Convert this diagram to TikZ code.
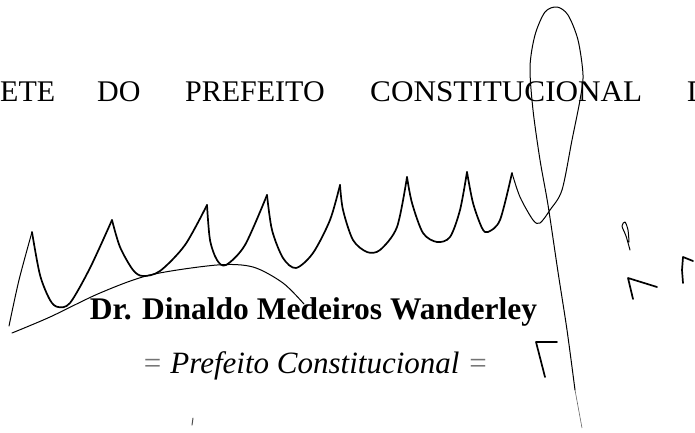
\documentclass[tikz,border=0pt]{standalone}
\usepackage{fontspec}
\setmainfont{Liberation Serif}
\usepackage{tikz}

\tikzset{
	head/.style={anchor=base west, inner sep=0pt, font=\fontsize{30}{30}\selectfont},
	ink/.style={line width=1.7pt, line cap=round, line join=round},
	fine ink/.style={line width=1pt, line cap=round, line join=round},
}

\begin{document}
\begin{tikzpicture}[x=1pt, y=-1pt]
	\useasboundingbox (0,0) rectangle (695,432);
	% header line, cut at both edges
	\node[head] (ete) at (0,101) {ETE};
	\node[head] (do) at (97,101) {DO};
	\node[head] (pref) at (185,101) {PREFEITO};
	\node[head] (const) at (370,101) {\scalebox{1.04}[1]{CONSTITUCIONAL}};
	\node[head] (d) at (687,101) {D};

	% name and title
	\node[anchor=base, inner sep=0pt, font=\fontsize{31.5}{32}\selectfont\bfseries] (name) at (313.5,319) {Dr. Dinaldo Medeiros Wanderley};
	\node[anchor=base, inner sep=0pt, font=\fontsize{31}{32}\selectfont\itshape] (title) at (315,373) {{\color{black!55}=} Prefeito Constitucional {\color{black!55}=}};

	% signature
	\draw[fine ink] plot[smooth] coordinates {(9,326) (19,280) (32,232)};
	\draw[ink] plot[smooth] coordinates {(32,232) (40,275) (50,300) (58,307) (70,303) (90,268) (112,220)};
	\draw[ink] plot[smooth] coordinates {(112,220) (120,247) (133,270) (143,276) (160,271) (185,245) (207,205)};
	\draw[ink] plot[smooth] coordinates {(207,205) (210,240) (217,260) (226,265) (245,245) (267,195)};
	\draw[ink] plot[smooth] coordinates {(267,195) (272,230) (283,258) (296,268) (313,253) (330,220) (340,185)};
	\draw[ink] plot[smooth] coordinates {(340,185) (343,210) (353,240) (367,252) (380,250) (397,227) (407,177)};
	\draw[ink] plot[smooth] coordinates {(407,177) (412,203) (423,233) (437,242) (450,237) (460,210) (467,172)};
	\draw[ink] plot[smooth] coordinates {(467,172) (473,203) (482,228) (488,232) (500,220) (512,173)};
	\draw[fine ink] plot[smooth] coordinates {(512,173) (520,197) (533,220) (540,223) (550,210) (562,190) (572,140) (580,100) (583,75) (578,40) (568,15) (557,7) (545,12) (535,35) (530,67) (533,110) (540,160) (548,205) (558,272) (567,330) (575,390)};
	\draw[line width=0.6pt, black!60] (575,390) -- (582,428);
	\draw[fine ink] plot[smooth] coordinates {(12,333) (50,317) (100,293) (150,275) (217,265) (253,267) (283,283) (304,304)};

	% marks at the right
	\draw[ink] (557,342) -- (536,342) -- (545,377);
	\draw[fine ink] plot[smooth] coordinates {(630,250) (626,236) (622,226) (625,222) (628,230) (629,242)};
	\draw[ink] (657,287) -- (628,278) -- (633,299);
	\draw[ink] (693,261) -- (683,257) -- (682,270) -- (683,283);
	\draw[fine ink, black!70] (193,418) -- (192,425);
\end{tikzpicture}
\end{document}
